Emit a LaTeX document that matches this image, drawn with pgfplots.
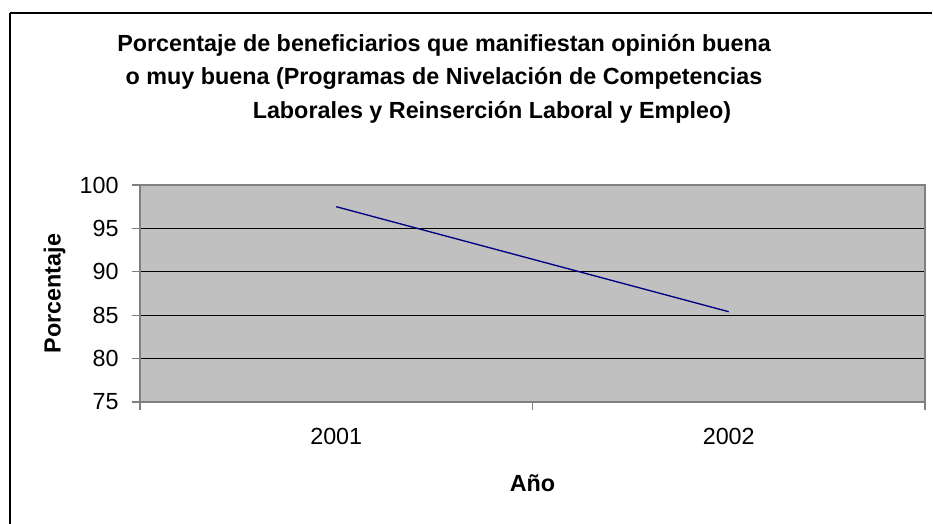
\documentclass[border=0pt]{standalone}
\usepackage{pgfplots}
\pgfplotsset{compat=1.18}
\usepackage{fontspec}
\setmainfont{Liberation Sans}
\definecolor{plotbg}{HTML}{C0C0C0}
\definecolor{axgray}{HTML}{808080}
\definecolor{navy}{HTML}{000080}
\begin{document}
\fontsize{17.5}{21}\selectfont
\begin{tikzpicture}
\useasboundingbox (0,0) rectangle (699.75pt,393pt);
% outer frame (px: left 10, top 13)
\draw[black, line width=1.2pt] (7.5pt,-10pt) -- (7.5pt,383.25pt);
\draw[black, line width=1.2pt] (7.5pt,383.25pt) -- (699pt,383.25pt);
% title lines
\node[font=\bfseries\fontsize{17.5}{21}\selectfont, anchor=center] at ({444*0.75pt},{(524-45)*0.75pt}) {Porcentaje de beneficiarios que manifiestan opinión buena};
\node[font=\bfseries\fontsize{17.5}{21}\selectfont, anchor=center] at ({444*0.75pt},{(524-78)*0.75pt}) {o muy buena (Programas de Nivelación de Competencias};
\node[font=\bfseries\fontsize{17.5}{21}\selectfont, anchor=center] at ({492*0.75pt},{(524-112)*0.75pt}) {Laborales y Reinserción Laboral y Empleo)};
\begin{axis}[
  at={(105pt,91.5pt)}, anchor=south west,
  scale only axis, width=588.75pt, height=162.75pt,
  xmin=0.5, xmax=2.5, ymin=75, ymax=100,
  ytick={75,80,...,100},
  xtick={1,2}, xticklabels={2001,2002},
  minor xtick={0.5,1.5,2.5},
  xtick pos=bottom, ytick pos=left,
  major x tick style={draw=none},
  minor x tick style={axgray, line width=0.8pt},
  y tick style={axgray, line width=0.8pt},
  tick align=outside,
  major tick length=6pt, minor tick length=6pt,
  ymajorgrids, major grid style={black, line width=0.8pt},
  axis background/.style={fill=plotbg},
  axis line style={axgray, line width=1.2pt},
  tick label style={font=\fontsize{17.5}{21}\selectfont},
  /pgf/number format/assume math mode=true,
  yticklabel style={xshift=-4pt},
  xticklabel style={yshift=-8pt},
  xlabel={\bfseries Año},
  ylabel={\bfseries Porcentaje},
  label style={font=\fontsize{17.5}{21}\selectfont},
  xlabel style={at={(axis description cs:0.5,0)}, anchor=center, yshift={-61pt}},
  ylabel style={at={(axis description cs:0,0.5)}, anchor=center, rotate=0, yshift={64pt}},
  clip=false,
]
\addplot[navy, line width=1pt] coordinates {(1,97.5) (2,85.4)};
\end{axis}
\end{tikzpicture}
\end{document}
